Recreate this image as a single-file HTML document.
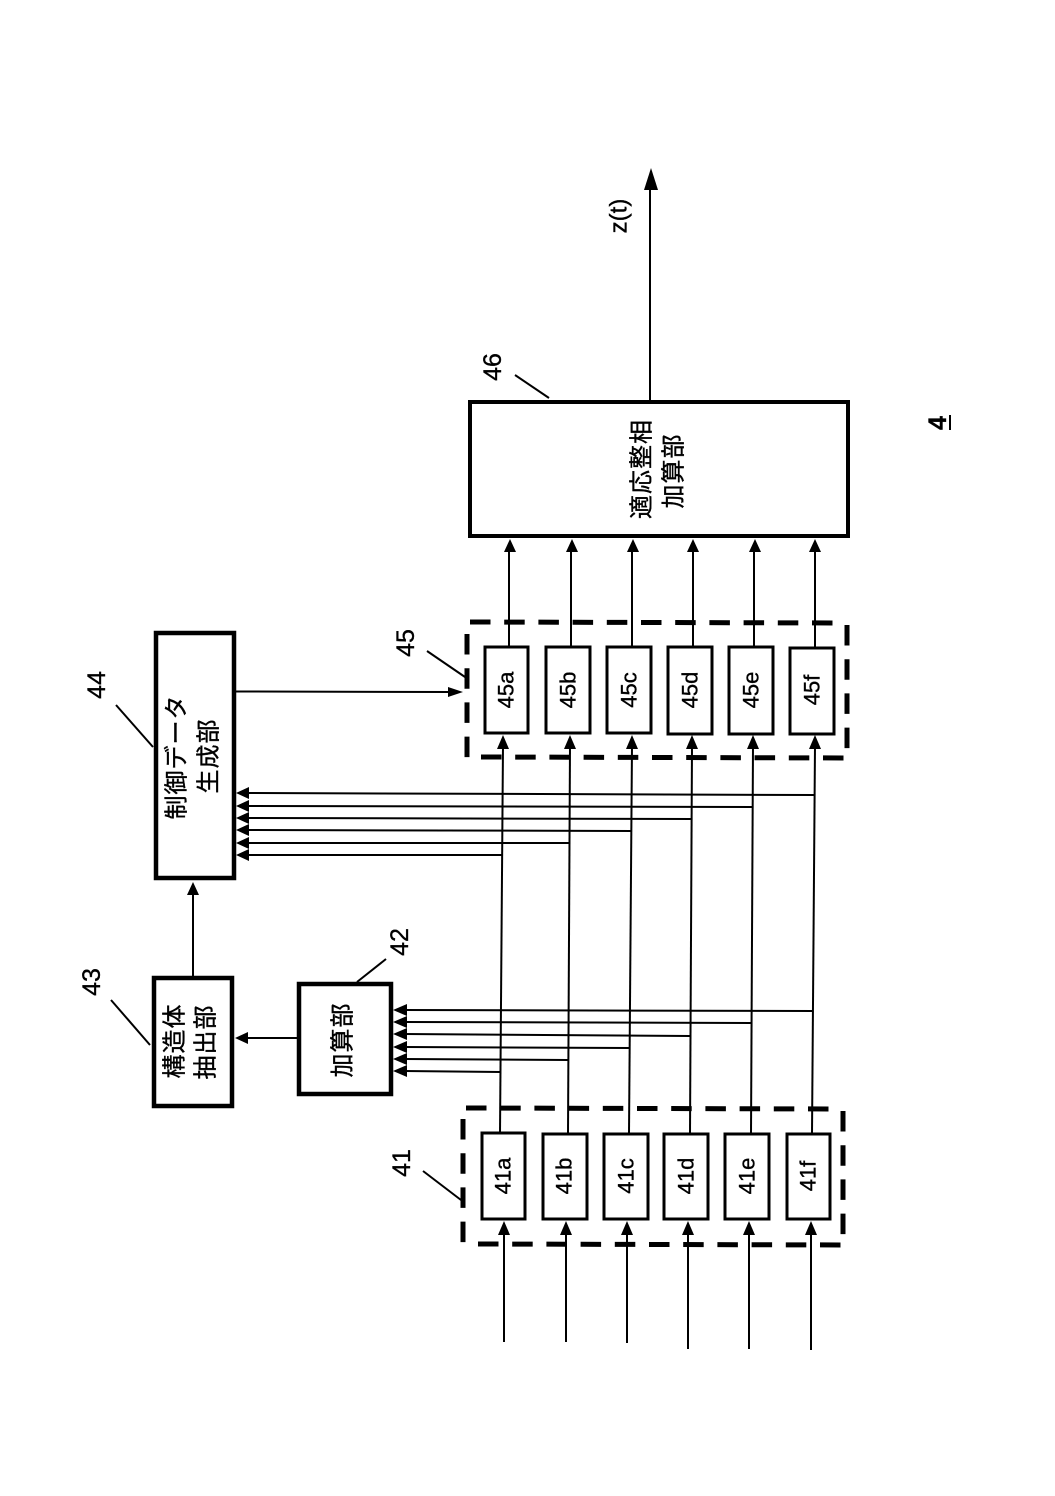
<!DOCTYPE html>
<html lang="ja">
<head>
<meta charset="utf-8">
<title>Diagram 4</title>
<style>
html,body{margin:0;padding:0;background:#fff;width:1055px;height:1496px;overflow:hidden}
svg{display:block}
text{font-family:"Liberation Sans","Noto Sans CJK JP",sans-serif;fill:#000;stroke:#000;stroke-width:.35;text-anchor:middle;dominant-baseline:central}
.t{font-size:24px;letter-spacing:1px}
.n{font-size:25px}
.s{font-size:22px}
.z{font-size:24px}
.b{fill:#fff;stroke:#000}
.l{stroke:#000;stroke-width:2;fill:none}
.d{stroke:#000;stroke-width:5;fill:none;stroke-dasharray:20.5 13.7}
polygon{fill:#000}
</style>
</head>
<body>
<svg width="1055" height="1496" viewBox="0 0 1055 1496" xmlns="http://www.w3.org/2000/svg">
<rect width="1055" height="1496" fill="#fff"/>

<!-- Vertical signal lines -->
<g class="l">
<line x1="503" y1="745" x2="500" y2="1133"/>
<line x1="570" y1="745" x2="568" y2="1133"/>
<line x1="632" y1="745" x2="629" y2="1133"/>
<line x1="692" y1="745" x2="690" y2="1133"/>
<line x1="753" y1="745" x2="751" y2="1133"/>
<line x1="815" y1="745" x2="812" y2="1133"/>
<!-- inputs -->
<line x1="504" y1="1232" x2="504" y2="1342"/>
<line x1="566" y1="1232" x2="566" y2="1342"/>
<line x1="627" y1="1232" x2="627" y2="1343"/>
<line x1="688" y1="1232" x2="688" y2="1349"/>
<line x1="749" y1="1232" x2="749" y2="1349"/>
<line x1="811" y1="1232" x2="811" y2="1350"/>
<!-- 45 to 46 -->
<line x1="509" y1="550" x2="509" y2="647"/>
<line x1="571" y1="550" x2="571" y2="647"/>
<line x1="632" y1="550" x2="632" y2="647"/>
<line x1="693" y1="550" x2="693" y2="647"/>
<line x1="754" y1="550" x2="754" y2="647"/>
<line x1="815" y1="550" x2="815" y2="647"/>
<!-- into 44 -->
<line x1="246" y1="793" x2="814" y2="795"/>
<line x1="246" y1="806" x2="752" y2="807"/>
<line x1="246" y1="818" x2="692" y2="819"/>
<line x1="246" y1="830" x2="632" y2="831"/>
<line x1="246" y1="843" x2="569" y2="843"/>
<line x1="246" y1="855" x2="502" y2="855"/>
<!-- into 42 -->
<line x1="404" y1="1010" x2="813" y2="1011"/>
<line x1="404" y1="1022" x2="751" y2="1023"/>
<line x1="404" y1="1034" x2="690" y2="1036"/>
<line x1="404" y1="1047" x2="630" y2="1048"/>
<line x1="404" y1="1059" x2="568" y2="1060"/>
<line x1="404" y1="1071" x2="501" y2="1072"/>
<!-- other connectors -->
<line x1="235" y1="691.5" x2="450" y2="692"/>
<line x1="193" y1="893" x2="193" y2="977"/>
<line x1="246" y1="1038" x2="298" y2="1038"/>
<line x1="650" y1="188" x2="650" y2="401"/>
<!-- leaders -->
<line x1="423" y1="1171" x2="461" y2="1200"/>
<line x1="427" y1="651" x2="465" y2="677"/>
<line x1="116" y1="705" x2="153" y2="747"/>
<line x1="111" y1="1000" x2="150" y2="1045"/>
<line x1="386" y1="959" x2="357" y2="982"/>
<line x1="515" y1="375" x2="549" y2="398"/>
</g>

<!-- Dashed groups -->
<g class="d">
<line x1="466" y1="1108" x2="832" y2="1109"/>
<line x1="478" y1="1244" x2="843" y2="1245"/>
<line x1="463" y1="1119" x2="463" y2="1245"/>
<line x1="843" y1="1111" x2="843" y2="1236"/>
<line x1="470" y1="622" x2="835" y2="623"/>
<line x1="481" y1="757" x2="846" y2="758"/>
<line x1="467" y1="634" x2="467" y2="759"/>
<line x1="847" y1="625" x2="847" y2="749"/>
</g>

<!-- Main blocks -->
<rect class="b" x="156" y="633" width="78" height="245" stroke-width="4.5"/>
<rect class="b" x="154" y="978" width="78" height="128" stroke-width="4.5"/>
<rect class="b" x="299" y="984" width="92" height="110" stroke-width="4.5"/>
<rect class="b" x="470" y="402" width="378" height="134" stroke-width="4"/>

<!-- 41 blocks -->
<g stroke-width="3">
<rect class="b" x="482" y="1133" width="43" height="86"/>
<rect class="b" x="543" y="1134" width="44" height="85"/>
<rect class="b" x="604" y="1134" width="44" height="85"/>
<rect class="b" x="664" y="1134" width="44" height="85"/>
<rect class="b" x="725" y="1134" width="44" height="85"/>
<rect class="b" x="787" y="1134" width="43" height="85"/>
<!-- 45 blocks -->
<rect class="b" x="485" y="647" width="43" height="86"/>
<rect class="b" x="546" y="647" width="44" height="86"/>
<rect class="b" x="607" y="647" width="44" height="86"/>
<rect class="b" x="668" y="647" width="44" height="87"/>
<rect class="b" x="729" y="647" width="44" height="87"/>
<rect class="b" x="790" y="648" width="44" height="86"/>
</g>

<!-- Arrowheads -->
<g>
<polygon points="504,1221 498,1235 510,1235"/>
<polygon points="566,1221 560,1235 572,1235"/>
<polygon points="627,1221 621,1235 633,1235"/>
<polygon points="688,1221 682,1235 694,1235"/>
<polygon points="749,1221 743,1235 755,1235"/>
<polygon points="811,1221 805,1235 817,1235"/>

<polygon points="503,735 497,749 509,749"/>
<polygon points="570,735 564,749 576,749"/>
<polygon points="632,735 626,749 638,749"/>
<polygon points="692,735 686,749 698,749"/>
<polygon points="753,735 747,749 759,749"/>
<polygon points="815,735 809,749 821,749"/>

<polygon points="510,539 504,552 516,552"/>
<polygon points="572,539 566,552 578,552"/>
<polygon points="633,539 627,552 639,552"/>
<polygon points="693,539 687,552 699,552"/>
<polygon points="755,539 749,552 761,552"/>
<polygon points="815,539 809,552 821,552"/>

<polygon points="236,793 249,787 249,799"/>
<polygon points="236,806 249,800 249,812"/>
<polygon points="236,818 249,812 249,824"/>
<polygon points="236,830 249,824 249,836"/>
<polygon points="236,843 249,837 249,849"/>
<polygon points="236,855 249,849 249,861"/>

<polygon points="393,1010 407,1004 407,1016"/>
<polygon points="393,1022 407,1016 407,1028"/>
<polygon points="393,1034 407,1028 407,1040"/>
<polygon points="393,1047 407,1041 407,1053"/>
<polygon points="393,1059 407,1053 407,1065"/>
<polygon points="393,1071 407,1065 407,1077"/>

<polygon points="463,692 448,687 448,697"/>
<polygon points="193,882 187,895 199,895"/>
<polygon points="235,1038 248,1032 248,1044"/>
<polygon points="651,168 644,190 658,190"/>
</g>

<!-- Reference numbers -->
<text class="n" transform="translate(402,1163) rotate(-90)">41</text>
<text class="n" transform="translate(406,643) rotate(-90)">45</text>
<text class="n" transform="translate(97,685) rotate(-90)">44</text>
<text class="n" transform="translate(92,982) rotate(-90)">43</text>
<text class="n" transform="translate(400,942) rotate(-90)">42</text>
<text class="n" transform="translate(493,367) rotate(-90)">46</text>
<text class="z" transform="translate(619,216) rotate(-90)">z(t)</text>
<text class="n" transform="translate(938,423) rotate(-90)" font-weight="bold">4</text>
<line x1="950" y1="415" x2="950" y2="430" stroke="#000" stroke-width="2"/>

<!-- Small block labels -->
<text class="s" transform="translate(503,1176) rotate(-90)">41a</text>
<text class="s" transform="translate(564,1176) rotate(-90)">41b</text>
<text class="s" transform="translate(626,1176) rotate(-90)">41c</text>
<text class="s" transform="translate(686,1176) rotate(-90)">41d</text>
<text class="s" transform="translate(747,1176) rotate(-90)">41e</text>
<text class="s" transform="translate(808,1176) rotate(-90)">41f</text>

<text class="s" transform="translate(506,690) rotate(-90)">45a</text>
<text class="s" transform="translate(568,690) rotate(-90)">45b</text>
<text class="s" transform="translate(629,690) rotate(-90)">45c</text>
<text class="s" transform="translate(690,690) rotate(-90)">45d</text>
<text class="s" transform="translate(751,690) rotate(-90)">45e</text>
<text class="s" transform="translate(812,690) rotate(-90)">45f</text>

<!-- Japanese labels -->
<text class="t" transform="translate(177,757) rotate(-90)">制御データ</text>
<text class="t" transform="translate(209,756) rotate(-90)">生成部</text>
<text class="t" transform="translate(175,1041) rotate(-90)">構造体</text>
<text class="t" transform="translate(206,1042) rotate(-90)">抽出部</text>
<text class="t" transform="translate(343,1040) rotate(-90)">加算部</text>
<text class="t" transform="translate(642,469) rotate(-90)">適応整相</text>
<text class="t" transform="translate(674,471) rotate(-90)">加算部</text>
</svg>
</body>
</html>
